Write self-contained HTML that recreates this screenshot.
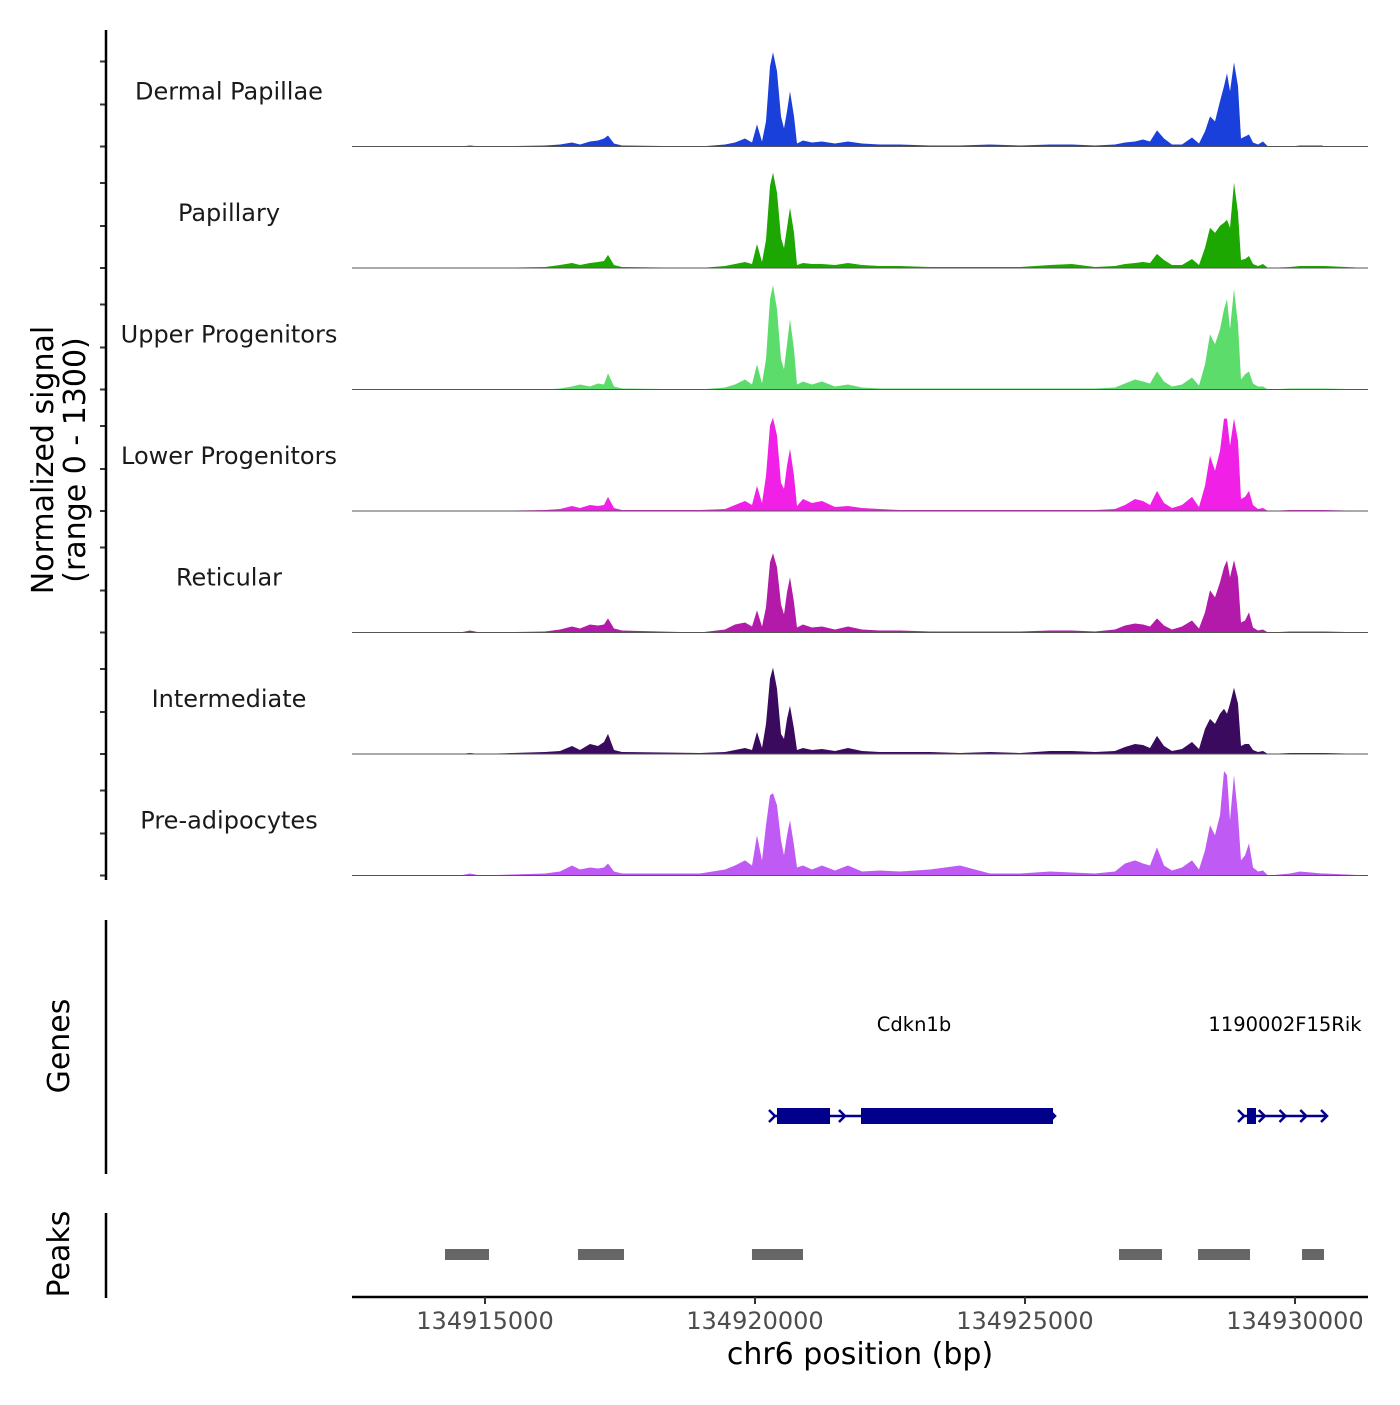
<!DOCTYPE html>
<html><head><meta charset="utf-8"><style>
body{margin:0;background:#fff}
svg text{font-family:"DejaVu Sans","Liberation Sans",sans-serif}
</style></head><body>
<svg id="chart" width="1400" height="1400" viewBox="0 0 1400 1400" xmlns="http://www.w3.org/2000/svg">
<rect width="1400" height="1400" fill="#fff"/>
<g id="tracks"></g>
<g id="axes"></g>
<text transform="translate(53,460) rotate(-90)" text-anchor="middle" font-size="30" fill="#000">Normalized signal</text>
<text transform="translate(85,460) rotate(-90)" text-anchor="middle" font-size="30" fill="#000">(range 0 - 1300)</text>
<text transform="translate(69,1046) rotate(-90)" text-anchor="middle" font-size="30" fill="#000">Genes</text>
<text transform="translate(69,1254) rotate(-90)" text-anchor="middle" font-size="30" fill="#000">Peaks</text>
<text x="860" y="1364" text-anchor="middle" font-size="30" fill="#000">chr6 position (bp)</text>
</svg>
<script>
const xStart = 134912537, xEnd = 134931352;
const trackNames = ["Dermal Papillae","Papillary","Upper Progenitors","Lower Progenitors","Reticular","Intermediate","Pre-adipocytes"];
const trackColors = ["#1a40dc","#1ca800","#5cdc6a","#f020e6","#b41aaa","#3a0a5e","#c05af5"];
const positions = [134912537,134914537,134914722,134914907,134916111,134916389,
134916611,134916759,134916944,134917093,134917204,134917278,134917389,134917537,
134918982,134919444,134919630,134919815,134919944,134920037,
134920130,134920204,134920278,134920333,134920407,134920481,134920537,134920593,134920648,134920722,134920778,
134920889,134921056,134921241,134921481,134921722,134921981,134922315,134922685,134923241,134923796,134924352,134924907,134925463,134925870,
134926296,134926667,134926852,134927037,134927185,134927315,134927444,134927574,134927722,134927907,134928093,
134928222,134928333,134928426,134928518,134928611,134928685,134928741,134928796,134928870,134928944,134929000,134929074,134929148,
134929222,134929315,134929407,134929500,134929907,134930093,134930500,134930556,134931352];
const dermalPapillae = [0,0,1,0,1,2, 4,2,5,6,8,11,3,1, 0,2,4,8,4,22, 5,25,80,94,75,30,18,35,55,30,3, 6,4,5,3,5,3,2,2,1,1,2,1,2,2, 1,2,4,5,7,5,16,8,2,2,9, 3,15,30,25,45,60,73,55,84,60,8,10,12, 4,2,5,0,0,1,1,0,0];
const papillary = [0,0,0,0,1,3, 5,3,5,6,7,13,3,1, 0,2,4,6,4,24, 6,28,82,95,75,30,20,40,60,35,3, 5,4,4,3,5,3,2,2,1,1,1,1,3,4, 1,2,4,5,6,5,14,8,3,3,9, 3,20,40,35,42,45,48,40,85,55,8,9,12, 4,2,4,0,1,2,2,2,0];
const upperProgenitors = [0,0,0,0,0,1, 3,5,3,6,5,16,3,1, 0,2,5,10,5,25, 6,30,90,104,80,30,20,45,70,40,5, 8,5,8,3,5,2,1,1,1,1,1,1,1,1, 1,2,6,10,8,6,18,8,3,5,12, 4,25,55,45,60,80,90,60,100,65,10,15,18, 6,3,3,0,1,1,1,1,0];
const lowerProgenitors = [0,0,0,0,1,2, 5,3,6,5,6,14,3,1, 1,2,6,10,6,25, 8,35,85,93,75,28,22,45,62,35,5, 12,8,10,4,5,3,2,1,1,1,1,1,1,1, 1,2,6,12,10,6,20,8,3,6,14, 4,25,55,40,60,92,92,65,92,70,12,14,20, 6,2,3,0,1,1,1,1,0];
const reticular = [0,0,2,0,1,3, 6,4,8,7,8,14,4,2, 0,3,8,10,6,22, 6,25,70,79,65,28,18,40,55,30,5, 8,5,6,3,6,3,2,2,1,1,1,1,2,2, 1,3,7,9,8,6,14,7,3,6,12, 4,20,42,35,50,65,72,55,72,55,10,12,20, 5,2,3,0,1,1,1,1,0];
const intermediate = [0,0,1,0,2,3, 8,4,10,8,12,20,4,2, 1,2,4,6,4,22, 6,30,75,86,65,20,15,35,48,25,4, 6,4,5,3,6,3,2,2,2,1,2,1,3,3, 2,3,7,10,9,6,18,8,3,5,12, 5,25,35,30,40,45,40,50,66,50,8,10,10, 4,2,3,0,1,1,1,1,0];
const preAdipocytes = [0,0,2,0,2,4, 10,6,8,7,8,12,4,2, 2,6,10,15,10,40, 15,50,80,82,70,35,20,40,55,30,8, 10,6,10,5,10,4,5,4,6,10,2,2,4,3, 2,4,12,15,12,10,28,10,5,8,15, 6,25,50,40,60,104,100,55,100,60,15,20,32, 8,4,5,0,2,4,2,2,0];
const xTicks = [134915000,134920000,134925000,134930000];
const peakStarts = [134914259,134916722,134919944,134926741,134928204,134930130];
const peakEnds = [134915074,134917574,134920889,134927537,134929167,134930537];
const geneNames = ["Cdkn1b","1190002F15Rik"];
const geneStarts = [134920333,134929019];
const geneEnds = [134925519,134930556];
const exonStarts = [134920407,134921963,134929111];
const exonEnds = [134921389,134925519,134929278];

const NS="http://www.w3.org/2000/svg";
const series=[dermalPapillae,papillary,upperProgenitors,lowerProgenitors,reticular,intermediate,preAdipocytes];
const X0=352,X1=1368;
function xs(bp){return X0+(bp-xStart)/(xEnd-xStart)*(X1-X0);}
const trackH=121.5, firstBase=146.5, yMax=121;
function base(i){return firstBase+i*trackH;}
function ys(v,i){return base(i)-v/yMax*trackH;}
function mk(tag,attrs,parent){const e=document.createElementNS(NS,tag);for(const k in attrs)e.setAttribute(k,attrs[k]);parent.appendChild(e);return e;}
const tg=document.getElementById('tracks'), ax=document.getElementById('axes');
series.forEach((vals,i)=>{
  let d='M'+xs(positions[0])+','+base(i);
  vals.forEach((v,j)=>{d+=' L'+xs(positions[j]).toFixed(1)+','+ys(v,i).toFixed(1);});
  d+=' L'+xs(positions[positions.length-1])+','+base(i)+' Z';
  const p=mk('path',{d:d,fill:trackColors[i]},tg);
  
  
  const l=mk('line',{x1:X0,x2:X1,y1:base(i),y2:base(i),stroke:'#555','stroke-width':1},tg);
  
  
  const t=mk('text',{x:229,y:base(i)-47,'text-anchor':'middle','font-size':24,fill:'#1a1a1a'},tg);
  t.textContent=trackNames[i];
  
  
  [0,42,85].forEach(o=>{const tk=mk('line',{x1:100,x2:106,y1:base(i)-o,y2:base(i)-o,stroke:'#333','stroke-width':2},ax);
    
    });
});
[[30,880],[920,1174],[1213,1298]].forEach(r=>{const a=mk('line',{x1:106,x2:106,y1:r[0],y2:r[1],stroke:'#000','stroke-width':2.5},ax);
  
  });
// genes
const gy=1116;
geneNames.forEach((g,i)=>{
  const l=mk('line',{x1:xs(geneStarts[i]),x2:xs(geneEnds[i]),y1:gy,y2:gy,stroke:'#00008b','stroke-width':2.5},ax);
  
  
  const t=mk('text',{x:i==0?914:1285,y:1031,'text-anchor':'middle','font-size':19.5,fill:'#000'},ax);
  t.textContent=g;
  
  
  for(let k=0;k<=4;k++){
    const bx=xs(geneStarts[i])+(xs(geneEnds[i])-xs(geneStarts[i]))*k/4;
    if(i==0&&(k==2||k==3))continue;
    const a=mk('path',{d:`M${bx-4},${gy-6} L${bx+2},${gy} L${bx-4},${gy+6}`,fill:'none',stroke:'#00008b','stroke-width':2.5},ax);
    
    
  }
});
exonStarts.forEach((s,i)=>{const r=mk('rect',{x:xs(s),y:gy-8,width:xs(exonEnds[i])-xs(s),height:16,fill:'#00008b'},ax);
  
  });
// peaks
peakStarts.forEach((s,i)=>{const r=mk('rect',{x:xs(s),y:1249,width:xs(peakEnds[i])-xs(s),height:11,fill:'#666'},ax);
  
  });
// x axis
const xl=mk('line',{x1:X0,x2:X1,y1:1297,y2:1297,stroke:'#000','stroke-width':2.5},ax);


xTicks.forEach(v=>{
  const tk=mk('line',{x1:xs(v),x2:xs(v),y1:1297,y2:1304,stroke:'#333','stroke-width':2},ax);
  
  
  const t=mk('text',{x:xs(v),y:1329,'text-anchor':'middle','font-size':24,fill:'#4d4d4d'},ax);
  t.textContent=String(v);
  
  
});
</script>
</body></html>
